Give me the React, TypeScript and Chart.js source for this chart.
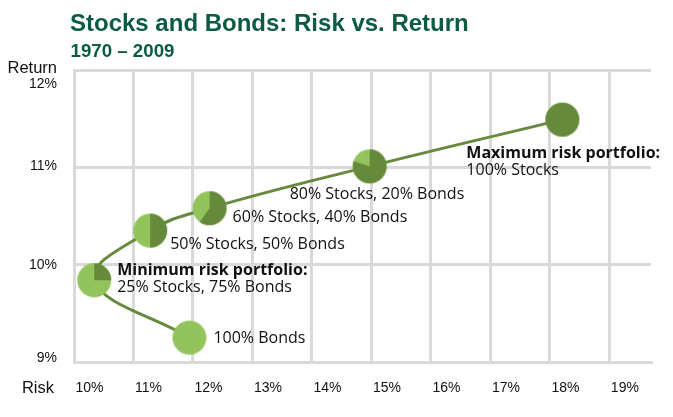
import React, { useEffect, useRef } from 'react';
import { Chart, registerables } from 'chart.js';

Chart.register(...registerables);

// ---- Data ----
const titleText = 'Stocks and Bonds: Risk vs. Return';
const subtitleText = '1970 – 2009';
const xAxisTitle = 'Risk';
const yAxisTitle = 'Return';

const portfolioNames = [
  '100% Bonds',
  '25% Stocks, 75% Bonds',
  '50% Stocks, 50% Bonds',
  '60% Stocks, 40% Bonds',
  '80% Stocks, 20% Bonds',
  '100% Stocks',
];
const riskValues = [11.94, 10.34, 11.28, 12.28, 14.97, 18.21];
const returnValues = [9.25, 9.84, 10.35, 10.58, 11.01, 11.49];
const stockShares = [0, 25, 50, 60, 80, 100];
const headlines = ['', 'Minimum risk portfolio:', '', '', '', 'Maximum risk portfolio:'];

const riskTicks = [10, 11, 12, 13, 14, 15, 16, 17, 18, 19];
const returnTicks = [9, 10, 11, 12];

// ---- Styles ----
const TITLE_COLOR = '#0b5a44';
const DARK_GREEN = '#658a3c';
const LIGHT_GREEN = '#93c45b';
const GRID_COLOR = '#d9d9d9';
const TEXT_COLOR = '#111111';
const SANS = '"Liberation Sans", Arial, Helvetica, sans-serif';
const NOTE_FONT = '"Open Sans", "Noto Sans", sans-serif';
const MARKER_R = 17;

function makePie(share: number): HTMLCanvasElement {
  const size = MARKER_R * 2 + 2;
  const c = document.createElement('canvas');
  c.width = size;
  c.height = size;
  const g = c.getContext('2d')!;
  const cx = size / 2;
  g.fillStyle = LIGHT_GREEN;
  g.beginPath();
  g.arc(cx, cx, MARKER_R, 0, Math.PI * 2);
  g.fill();
  if (share > 0) {
    g.fillStyle = DARK_GREEN;
    g.beginPath();
    if (share >= 100) {
      g.arc(cx, cx, MARKER_R, 0, Math.PI * 2);
    } else {
      g.moveTo(cx, cx);
      g.arc(cx, cx, MARKER_R, -Math.PI / 2, -Math.PI / 2 + (share / 100) * Math.PI * 2);
      g.closePath();
    }
    g.fill();
  }
  return c;
}

// note placement relative to each marker (layout only)
const noteOffsets: [number, number][] = [
  [24, 5],
  [23, -5],
  [20, 18],
  [23, 13.5],
  [-80, 33],
  [-96, 38],
];

const textPlugin = {
  id: 'chartTexts',
  afterDraw(chart: any) {
    const ctx: CanvasRenderingContext2D = chart.ctx;
    const xs = chart.scales.x;
    const ys = chart.scales.y;
    ctx.save();
    ctx.textBaseline = 'alphabetic';

    // title + subtitle
    ctx.textAlign = 'left';
    ctx.fillStyle = TITLE_COLOR;
    ctx.font = `bold 24px ${SANS}`;
    ctx.fillText(titleText, 70, 31);
    ctx.font = `bold 18.7px ${SANS}`;
    ctx.fillText(subtitleText, 70.5, 57);

    // axis titles
    ctx.fillStyle = TEXT_COLOR;
    ctx.font = `16.5px ${SANS}`;
    ctx.textAlign = 'right';
    ctx.fillText(yAxisTitle, 57, 73);
    ctx.fillText(xAxisTitle, 54, 393);

    // y tick labels
    ctx.font = `14px ${SANS}`;
    const yShift: Record<number, number> = { 12: 18, 11: 3, 10: 4, 9: 0 };
    ys.ticks.forEach((t: any) => {
      const py = ys.getPixelForValue(t.value);
      ctx.fillText(`${t.value}%`, 57, py + (yShift[t.value] ?? 4));
    });

    // x tick labels
    ctx.textAlign = 'left';
    xs.ticks.forEach((t: any) => {
      const px = xs.getPixelForValue(t.value);
      ctx.fillText(`${t.value}%`, px + 1.5, 392);
    });

    // notes next to markers
    const meta = chart.getDatasetMeta(0);
    meta.data.forEach((el: any, i: number) => {
      const [dx, dy] = noteOffsets[i];
      const x = el.x + dx;
      let y = el.y + dy;
      ctx.fillStyle = TEXT_COLOR;
      if (headlines[i]) {
        ctx.font = `bold 16px ${NOTE_FONT}`;
        ctx.fillText(headlines[i], x, y);
        y += 17;
      }
      ctx.font = `16px ${NOTE_FONT}`;
      ctx.fillText(portfolioNames[i], x, y);
    });
    ctx.restore();
  },
};

export default function App() {
  const ref = useRef<HTMLCanvasElement | null>(null);

  useEffect(() => {
    if (!ref.current) return;
    const pies = stockShares.map((s) => makePie(s));
    const chart = new Chart(ref.current, {
      type: 'scatter',
      data: {
        datasets: [
          {
            data: riskValues.map((x, i) => ({ x, y: returnValues[i] })),
            showLine: true,
            borderColor: DARK_GREEN,
            borderWidth: 3,
            tension: 0.4,
            pointStyle: pies as any,
            pointRadius: MARKER_R,
            pointHoverRadius: MARKER_R,
            clip: false as any,
          },
        ],
      },
      options: {
        animation: false,
        responsive: false,
        maintainAspectRatio: false,
        events: [],
        layout: { padding: { left: 74, right: 22, top: 70, bottom: 55 } },
        plugins: {
          legend: { display: false },
          tooltip: { enabled: false },
        },
        scales: {
          x: {
            type: 'linear',
            min: 10,
            max: 19.7,
            afterBuildTicks: (s: any) => {
              s.ticks = riskTicks.map((v) => ({ value: v }));
            },
            ticks: { display: false },
            grid: { color: GRID_COLOR, lineWidth: 3, drawTicks: false },
            border: { color: GRID_COLOR, width: 3 },
          },
          y: {
            type: 'linear',
            min: 9,
            max: 12,
            afterBuildTicks: (s: any) => {
              s.ticks = returnTicks.map((v) => ({ value: v }));
            },
            ticks: { display: false },
            grid: { color: GRID_COLOR, lineWidth: 3, drawTicks: false },
            border: { color: GRID_COLOR, width: 3 },
          },
        },
      },
      plugins: [textPlugin],
    });
    return () => chart.destroy();
  }, []);

  return (
    <div style={{ position: 'absolute', left: 0, top: 0, width: 673, height: 417, background: '#fff' }}>
      <canvas ref={ref} width={673} height={417} style={{ width: 673, height: 417, display: 'block' }} />
    </div>
  );
}
